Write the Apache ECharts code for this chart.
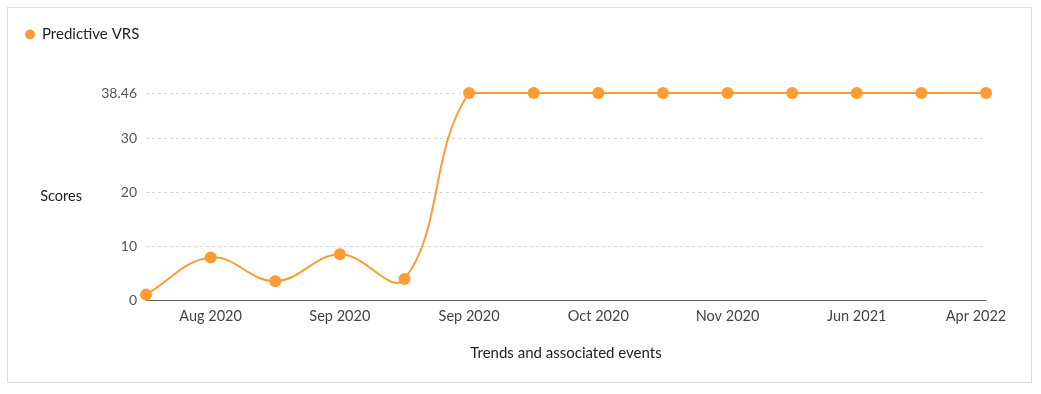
<!DOCTYPE html>
<html>
<head>
<meta charset="utf-8">
<script src="https://cdn.jsdelivr.net/npm/echarts@6/dist/echarts.min.js"></script>
<style>
html,body{margin:0;padding:0;background:#fff;}
#frame{position:absolute;left:7px;top:7px;width:1025px;height:376px;border:1px solid #dcdcdc;box-sizing:border-box;}
#chart{position:absolute;left:0;top:0;width:1041px;height:394px;}
</style>
</head>
<body>
<div id="frame"></div>
<div id="chart"></div>
<script>
const categories = ["Jul 2020","Aug 2020","Aug 2020","Sep 2020","Sep 2020","Sep 2020","Oct 2020","Oct 2020","Nov 2020","Nov 2020","Jun 2021","Jun 2021","Apr 2022","Apr 2022"];
const seriesName = "Predictive VRS";
const values = [1.0, 7.9, 3.5, 8.5, 3.9, 38.46, 38.46, 38.46, 38.46, 38.46, 38.46, 38.46, 38.46, 38.46];
const yMax = 38.46;

const COLOR = '#ff9b33';
const TENSION = 0.4;
const chart = echarts.init(document.getElementById('chart'));
const font = 'Lato, "Noto Sans", sans-serif';

// spline segments (cardinal-like, control points capped to plot area)
function renderSpline(params, api) {
  const i = params.dataIndexInside;
  const n = params.dataInsideLength;
  if (i >= n - 1) return null;
  const cs = params.coordSys;
  const P = {};
  for (let k = Math.max(0, i - 1); k <= Math.min(n - 1, i + 2); k++) {
    P[k] = api.coord([api.value(0, k), api.value(1, k)]);
  }
  function cp(k) {
    const cur = P[k];
    const prev = P[k - 1] || cur;
    const next = P[k + 1] || cur;
    const d01 = Math.hypot(cur[0] - prev[0], cur[1] - prev[1]);
    const d12 = Math.hypot(next[0] - cur[0], next[1] - cur[1]);
    let s01 = d01 / (d01 + d12), s12 = d12 / (d01 + d12);
    if (isNaN(s01)) s01 = 0;
    if (isNaN(s12)) s12 = 0;
    const fa = TENSION * s01, fb = TENSION * s12;
    const vx = next[0] - prev[0], vy = next[1] - prev[1];
    return {
      prev: [cur[0] - fa * vx, cur[1] - fa * vy],
      next: [cur[0] + fb * vx, cur[1] + fb * vy]
    };
  }
  function cap(p) {
    return [Math.min(Math.max(p[0], cs.x), cs.x + cs.width),
            Math.min(Math.max(p[1], cs.y), cs.y + cs.height)];
  }
  const a = cap(cp(i).next), b = cap(cp(i + 1).prev);
  return {
    type: 'bezierCurve',
    shape: {x1: P[i][0], y1: P[i][1], x2: P[i + 1][0], y2: P[i + 1][1],
            cpx1: a[0], cpy1: a[1], cpx2: b[0], cpy2: b[1]},
    style: {stroke: COLOR, lineWidth: 2, fill: 'none'},
    silent: true
  };
}

chart.setOption({
  animation: false,
  textStyle: {fontFamily: font},
  legend: {
    left: 20, top: 22,
    icon: 'circle', itemWidth: 10, itemHeight: 10, itemGap: 10,
    textStyle: {fontFamily: font, fontSize: 15, color: '#222', padding: [0,0,0,2]},
    data: [seriesName]
  },
  grid: {left: 146, right: 55, top: 93, bottom: 94, containLabel: false},
  xAxis: {
    type: 'category',
    data: categories,
    boundaryGap: false,
    name: 'Trends and associated events',
    nameLocation: 'middle',
    nameGap: 46,
    nameTextStyle: {fontFamily: font, fontSize: 15, color: '#222'},
    axisLine: {lineStyle: {color: '#666', width: 1}},
    axisTick: {show: false},
    axisLabel: {
      interval: function (idx) { return idx % 2 === 1; },
      formatter: function (val, idx) {
        return idx === categories.length - 1 ? '{last|' + val + '}' : val;
      },
      rich: {last: {fontFamily: font, fontSize: 14.5, color: '#444', padding: [0, 20, 0, 0]}},
      fontFamily: font, fontSize: 14.5, color: '#444', margin: 9
    },
    splitLine: {show: false}
  },
  yAxis: {
    type: 'value',
    min: 0, max: yMax, interval: 10,
    name: 'Scores',
    nameLocation: 'middle',
    nameRotate: 0,
    nameGap: 64,
    nameTextStyle: {fontFamily: font, fontSize: 14.5, color: '#222'},
    axisLine: {show: false},
    axisTick: {show: false},
    axisLabel: {fontFamily: font, fontSize: 14, color: '#555', margin: 9},
    splitLine: {lineStyle: {color: '#d5d5d5', type: [3, 3], width: 1}}
  },
  series: [{
    type: 'custom',
    name: 'spline',
    renderItem: renderSpline,
    data: values.map(function (v, k) { return [k, v]; }),
    encode: {x: 0, y: 1},
    z: 1,
    silent: true
  }, {
    name: seriesName,
    type: 'line',
    data: values,
    symbol: 'circle',
    symbolSize: 12,
    color: COLOR,
    lineStyle: {width: 0, opacity: 0},
    itemStyle: {color: COLOR},
    z: 2
  }]
});
</script>
</body>
</html>
